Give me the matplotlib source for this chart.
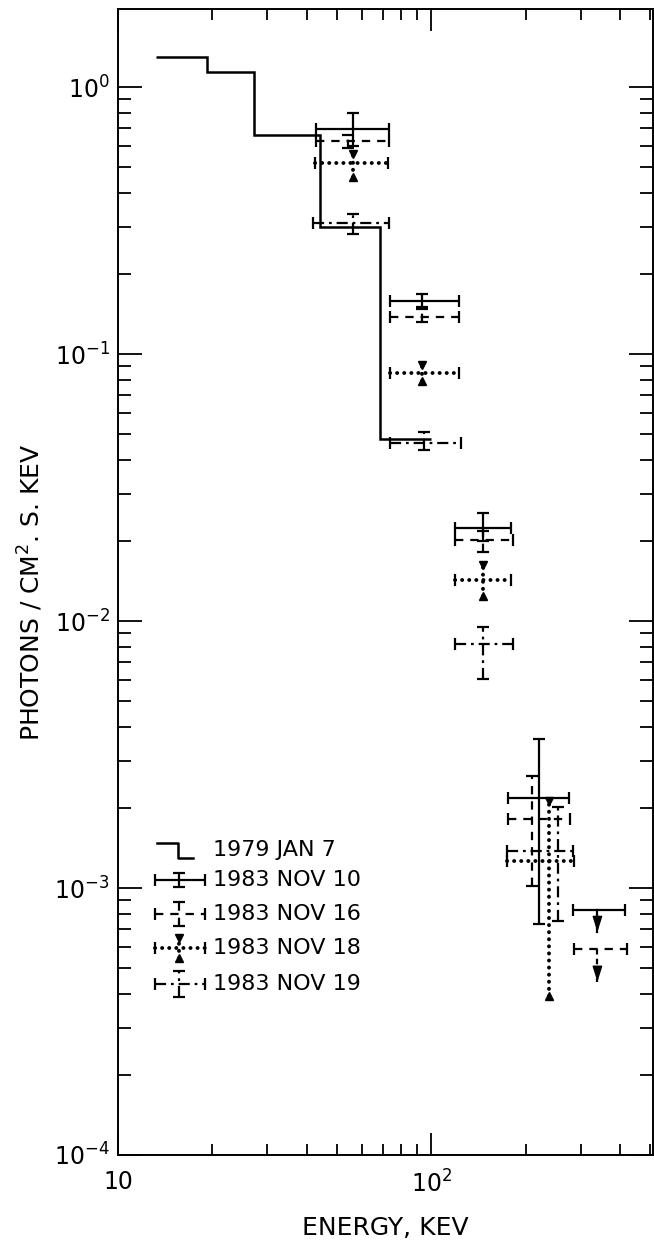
"""Hard X-ray spectra: 1979 Jan 7 histogram and four 1983 November observations."""

import numpy as np
import matplotlib.pyplot as plt
from matplotlib.ticker import FixedLocator, FixedFormatter, LogLocator, NullFormatter

plt.rcParams["font.family"] = ["DejaVu Sans"]
plt.rcParams["mathtext.default"] = "regular"
plt.rcParams["lines.scale_dashes"] = False

# 1979 JAN 7 spectrum (bin edges in keV, flux per bin)
jan7_edges = [13.2, 19.2, 27.2, 44.2, 68.7, 100]
jan7_flux = [1.30, 1.14, 0.66, 0.30, 0.048]

# 1983 NOV 10
nov10_e = [56.4, 93.5, 146.6, 221]
nov10_e_lo = [43, 74, 119, 176]
nov10_e_hi = [73.5, 123, 180, 276]
nov10_f = [0.696, 0.158, 0.0223, 0.00217]
nov10_f_lo = [0.60, 0.150, 0.0200, 0.000733]
nov10_f_hi = [0.80, 0.168, 0.0254, 0.00361]

# 1983 NOV 16
nov16_e = [54.4, 93.5, 146.6, 210]
nov16_e_lo = [43, 74, 119, 176]
nov16_e_hi = [73.5, 123, 182, 278]
nov16_f = [0.628, 0.138, 0.0201, 0.00181]
nov16_f_lo = [0.59, 0.132, 0.0181, 0.00102]
nov16_f_hi = [0.66, 0.147, 0.0217, 0.00263]

# 1983 NOV 18
nov18_e = [56.4, 93.5, 146.6, 237]
nov18_e_lo = [42.5, 74, 119, 175]
nov18_e_hi = [73, 123, 180, 285]
nov18_f = [0.519, 0.085, 0.01425, 0.00126]
nov18_f_lo = [0.46, 0.079, 0.0124, 0.000394]
nov18_f_hi = [0.561, 0.091, 0.0162, 0.00212]

# 1983 NOV 19
nov19_e = [56.4, 95, 146.6, 253]
nov19_e_lo = [42, 74, 119, 175]
nov19_e_hi = [73.5, 124, 182, 283]
nov19_f = [0.309, 0.0464, 0.0082, 0.00138]
nov19_f_lo = [0.281, 0.0438, 0.00607, 0.000752]
nov19_f_hi = [0.335, 0.0512, 0.0095, 0.00201]

# upper limits (NOV 10, NOV 16): energy, energy range, limit, arrow tip
ul_e = [339, 339]
ul_e_lo = [284, 285]
ul_e_hi = [414, 420]
ul_f = [0.000828, 0.000591]
ul_tip = [0.000684, 0.000445]

x_ticks = [10, 100]
x_tick_labels = ["10", "$10^2$"]
y_ticks = [1e-4, 1e-3, 1e-2, 1e-1, 1e0]
y_tick_labels = ["$10^{-4}$", "$10^{-3}$", "$10^{-2}$", "$10^{-1}$", "$10^{0}$"]

legend_labels = ["1979 JAN 7", "1983 NOV 10", "1983 NOV 16", "1983 NOV 18", "1983 NOV 19"]

SOLID = "-"
DASHED = (0, (6, 5))
DOTTED = (0, (0.1, 5))
DASHDOT = (0, (8, 3.5, 2, 3.5))
LW = 1.6


def draw_series(ax, e, e_lo, e_hi, f, f_lo, f_hi, ls, dotted=False):
    xerr = [np.subtract(e, e_lo), np.subtract(e_hi, e)]
    yerr = [np.subtract(f, f_lo), np.subtract(f_hi, f)]
    eb = ax.errorbar(e, f, xerr=xerr, yerr=yerr, fmt="none", ecolor="black",
                     elinewidth=2.8 if dotted else LW,
                     capsize=0 if dotted else 4, capthick=LW)
    for lc in eb[2]:
        lc.set_linestyle(ls)
        lc.set_capstyle("round" if dotted else "butt")
    if dotted:
        ax.plot(e, f_hi, "v", color="black", ms=5.5)
        ax.plot(e, f_lo, "^", color="black", ms=5.5)
        ax.plot(e_lo, f, "|", color="black", ms=8, mew=LW)
        ax.plot(e_hi, f, "|", color="black", ms=8, mew=LW)


def legend_symbol(ax, y, dy, ls, dotted=False):
    x0, x1, xc = 0.0692, 0.163, 0.114
    kw = dict(transform=ax.transAxes, color="black", clip_on=False)
    lw = 2.8 if dotted else LW
    cap = "round" if dotted else "butt"
    ax.plot([x0, x1], [y, y], ls=ls, lw=lw, solid_capstyle=cap, dash_capstyle=cap, **kw)
    ax.plot([xc, xc], [y - dy, y + dy], ls=ls, lw=lw, solid_capstyle=cap, dash_capstyle=cap, **kw)
    ax.plot([x0, x1], [y, y], "|", ms=8, mew=LW, **kw)
    if dotted:
        ax.plot([xc], [y + dy], "v", ms=5.5, **kw)
        ax.plot([xc], [y - dy], "^", ms=5.5, **kw)
    else:
        ax.plot([xc, xc], [y - dy, y + dy], "_", ms=8, mew=LW, **kw)


fig = plt.figure(figsize=(6.54, 12.41), dpi=100)
ax = fig.add_axes([118 / 654, 86 / 1241, 535 / 654, 1146 / 1241])
ax.set_xscale("log")
ax.set_yscale("log")
ax.set_xlim(10, 510)
ax.set_ylim(1e-4, 1.96)

ax.stairs(jan7_flux, jan7_edges, baseline=None, color="black", lw=1.8)

draw_series(ax, nov10_e, nov10_e_lo, nov10_e_hi, nov10_f, nov10_f_lo, nov10_f_hi, SOLID)
draw_series(ax, nov16_e, nov16_e_lo, nov16_e_hi, nov16_f, nov16_f_lo, nov16_f_hi, DASHED)
draw_series(ax, nov18_e, nov18_e_lo, nov18_e_hi, nov18_f, nov18_f_lo, nov18_f_hi, DOTTED, dotted=True)
draw_series(ax, nov19_e, nov19_e_lo, nov19_e_hi, nov19_f, nov19_f_lo, nov19_f_hi, DASHDOT)

# upper limits: bar, stem in the series' line style, solid arrow head at the tip
for i, ls in enumerate([SOLID, DASHED]):
    ax.errorbar([ul_e[i]], [ul_f[i]], xerr=[[ul_e[i] - ul_e_lo[i]], [ul_e_hi[i] - ul_e[i]]],
                fmt="none", ecolor="black", elinewidth=LW, capsize=4, capthick=LW)[2][0].set_linestyle(ls)
    ax.plot([ul_e[i], ul_e[i]], [ul_f[i], ul_tip[i]], color="black", lw=LW,
            ls=(0, (4, 3)) if ls != SOLID else SOLID)
    ax.annotate("", xy=(ul_e[i], ul_tip[i]), xytext=(ul_e[i], ul_tip[i] * 1.12),
                arrowprops=dict(arrowstyle="-|>,head_length=0.8,head_width=0.25",
                                mutation_scale=12, lw=1.0, color="black",
                                shrinkA=0, shrinkB=0))

# axes, ticks
ax.xaxis.set_major_locator(FixedLocator(x_ticks))
ax.xaxis.set_major_formatter(FixedFormatter(x_tick_labels))
ax.xaxis.set_minor_locator(LogLocator(base=10, subs=np.arange(2, 10)))
ax.xaxis.set_minor_formatter(NullFormatter())
ax.yaxis.set_major_locator(FixedLocator(y_ticks))
ax.yaxis.set_major_formatter(FixedFormatter(y_tick_labels))
ax.yaxis.set_minor_locator(LogLocator(base=10, subs=np.arange(2, 10), numticks=20))
ax.yaxis.set_minor_formatter(NullFormatter())

ax.tick_params(which="both", direction="in", top=True, right=True, width=1.3, labelsize=17)
ax.tick_params(axis="x", which="major", length=16, pad=11)
ax.tick_params(axis="x", which="minor", length=8)
ax.tick_params(axis="y", which="major", length=17, pad=6)
ax.tick_params(axis="y", which="minor", length=9.5)
for sp in ax.spines.values():
    sp.set_linewidth(1.4)

# legend drawn by hand
ax.plot([0.0729, 0.1121, 0.1121, 0.1402], [0.2723, 0.2723, 0.2592, 0.2592],
        color="black", lw=1.8, transform=ax.transAxes)
legend_symbol(ax, 0.2400, 0.0065, SOLID)
legend_symbol(ax, 0.2103, 0.0105, DASHED)
legend_symbol(ax, 0.1806, 0.0087, DOTTED, dotted=True)
legend_symbol(ax, 0.1492, 0.0110, DASHDOT)
for label, y in zip(legend_labels, [0.2661, 0.2400, 0.2103, 0.1806, 0.1492]):
    ax.text(0.178, y, label, transform=ax.transAxes, fontsize=16, va="center", ha="left")

fig.text(385 / 654, 1 - 1228 / 1241, "ENERGY, KEV", fontsize=18, ha="center", va="center")
fig.text(31 / 654, 1 - 592 / 1241, "PHOTONS / CM$^2$. S. KEV", fontsize=18,
         ha="center", va="center", rotation=90)

fig.savefig("out.png", dpi=100)
plt.close(fig)
